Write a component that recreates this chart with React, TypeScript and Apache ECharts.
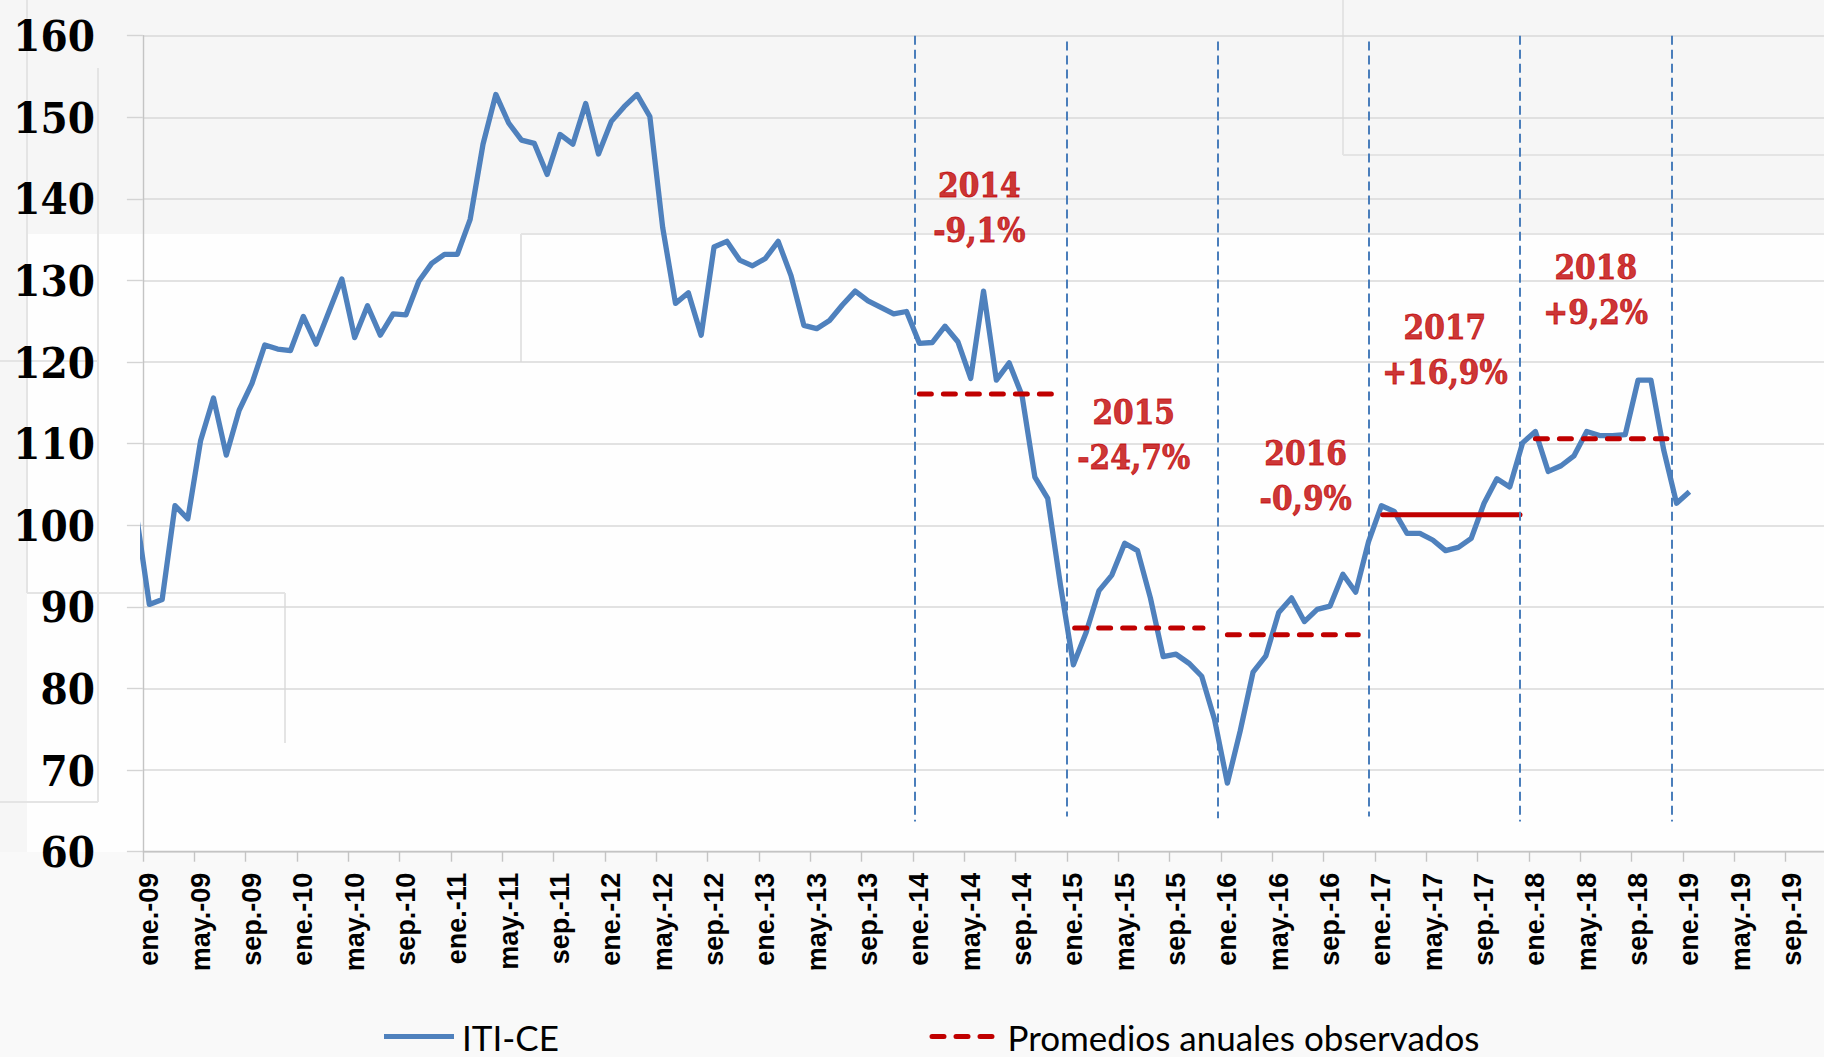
import React, { useEffect, useRef } from "react";
import * as echarts from "echarts";

// ---------- data ----------
const monthNames = ["ene.", "feb.", "mar.", "abr.", "may.", "jun.", "jul.", "ago.", "sep.", "oct.", "nov.", "dic."];
const years = ["09", "10", "11", "12", "13", "14", "15", "16", "17", "18", "19"];
const categories = years.flatMap((y) => monthNames.map((m) => `${m}-${y}`));

// ITI-CE, monthly; first value is dic-08 (clipped at the axis), then ene-09 ... ene-19
const itiFirstMonth = -1;
const itiValues = [
  101.2,
  90.3, 90.9, 102.4, 100.8, 110.4, 115.6, 108.6, 114.1, 117.4, 122.1, 121.6, 121.4,
  125.6, 122.2, 126.2, 130.2, 123.0, 126.9, 123.3, 125.9, 125.8, 129.9, 132.1, 133.2,
  133.2, 137.5, 146.7, 152.8, 149.3, 147.2, 146.8, 143.0, 147.9, 146.7, 151.7, 145.5,
  149.5, 151.3, 152.8, 150.1, 136.5, 127.2, 128.5, 123.3, 134.1, 134.8, 132.5, 131.8,
  132.7, 134.8, 130.6, 124.5, 124.1, 125.1, 127.0, 128.7, 127.5, 126.7, 125.9, 126.2,
  122.3, 122.4, 124.4, 122.5, 118.0, 128.7, 117.8, 119.9, 115.9, 105.9, 103.3, 92.6,
  82.9, 86.9, 92.0, 93.9, 97.8, 96.9, 91.1, 83.9, 84.2, 83.1, 81.5, 76.2,
  68.4, 74.8, 82.0, 84.0, 89.3, 91.1, 88.2, 89.7, 90.1, 94.0, 91.8, 98.0,
  102.4, 101.7, 99.0, 99.0, 98.2, 96.9, 97.3, 98.4, 102.7, 105.7, 104.7, 110.1,
  111.5, 106.6, 107.3, 108.5, 111.5, 111.0, 111.0, 111.1, 117.8, 117.8, 109.2, 102.7,
  104.1,
];

// year separators (in months from ene-09)
const markerMonths = [60.14, 72.0, 83.77, 95.5, 107.3, 119.12];
const markerTop = [160, 159.3, 159.3, 159.3, 160, 160];
const markerBottom = [63.7, 64.3, 64.1, 64.3, 63.7, 63.7];

// annual averages
const avgYears = ["2014", "2015", "2016", "2017", "2018"];
const avgValues = [116.1, 87.4, 86.6, 101.3, 110.6];
const avgStart = [60.5, 72.6, 84.5, 96.6, 108.5];
const avgEnd = [70.8, 82.6, 94.7, 107.3, 118.75];
const avgSolid = [false, false, false, true, false];

// annual change annotations
const changeLabels = ["-9,1%", "-24,7%", "-0,9%", "+16,9%", "+9,2%"];
const labelMonth = [65.17, 77.2, 90.6, 101.45, 113.2];
const labelValue = [138.9, 111.1, 106.0, 121.5, 128.85];

const yTicks = { min: 60, max: 160, step: 10 };

const BLUE = "#4f81bd";
const RED = "#c00000";
const AVG_NAME = "Promedios anuales observados";
const SERIF = "'DejaVu Serif Condensed', 'DejaVu Serif', 'Liberation Serif', serif";
const GHOST = "#e4e4e4";

export default function App() {
  const ref = useRef<HTMLDivElement>(null);

  useEffect(() => {
    if (!ref.current) return;
    const chart = echarts.init(ref.current, undefined, { renderer: "svg" });

    const itiData = itiValues.map((v, k) => [itiFirstMonth + k + 0.5, v]);

    const avgSeries = avgValues.map((v, k) => ({
      type: "line",
      name: AVG_NAME,
      xAxisIndex: 1,
      data: [
        [avgStart[k], v],
        [avgEnd[k], v],
      ],
      symbol: "none",
      silent: true,
      color: RED,
      lineStyle: { color: RED, width: 5, type: avgSolid[k] ? "solid" : [12, 12], cap: "round" },
      z: 4,
    }));

    const ghostLine = (x1: number, y1: number, x2: number, y2: number) => ({
      type: "line",
      z: -5,
      silent: true,
      shape: { x1, y1, x2, y2 },
      style: { stroke: GHOST, lineWidth: 2 },
    });

    const dashIcon =
      "path://M2.5,0h12a2.5,2.5 0 0 1 0,5h-12a2.5,2.5 0 0 1 0,-5z" +
      "M26.5,0h12a2.5,2.5 0 0 1 0,5h-12a2.5,2.5 0 0 1 0,-5z" +
      "M50.5,0h12a2.5,2.5 0 0 1 0,5h-12a2.5,2.5 0 0 1 0,-5z";

    const legendText = {
      fontFamily: "Lato",
      fontSize: 35,
      color: "#000",
      lineHeight: 30,
    };

    const option: any = {
      animation: false,
      backgroundColor: "#f6f6f6",
      graphic: [
        {
          type: "rect",
          z: -10,
          silent: true,
          shape: { x: 27, y: 234, width: 1820, height: 618 },
          style: { fill: "#fefefe" },
        },
        {
          type: "rect",
          z: -10,
          silent: true,
          shape: { x: 0, y: 852, width: 1840, height: 205 },
          style: { fill: "#f9f9f9" },
        },
        ghostLine(27, 0, 27, 593),
        ghostLine(27, 593, 285, 593),
        ghostLine(285, 593, 285, 743),
        ghostLine(98, 68, 98, 802),
        ghostLine(0, 802, 98, 802),
        ghostLine(0, 361, 98, 361),
        ghostLine(1343, 0, 1343, 155),
        ghostLine(1343, 155, 1840, 155),
        ghostLine(521, 234, 1840, 234),
        ghostLine(521, 234, 521, 362),
      ],
      grid: { left: 142.9, top: 35.7, right: 0, bottom: 205.3, containLabel: false },
      legend: [
        {
          data: ["ITI-CE"],
          left: 379,
          top: 1014,
          icon: "rect",
          itemWidth: 70,
          itemHeight: 5,
          itemGap: 0,
          textStyle: { ...legendText, padding: [0, 0, 0, 3] },
        },
        {
          data: [AVG_NAME],
          left: 924.5,
          top: 1014,
          icon: dashIcon,
          itemWidth: 65,
          itemHeight: 5,
          itemGap: 0,
          textStyle: { ...legendText, padding: [0, 0, 0, 8] },
        },
      ],
      xAxis: [
        {
          type: "category",
          data: categories,
          boundaryGap: true,
          axisLine: { show: true, lineStyle: { color: "#c4c4c4", width: 1.4 } },
          axisTick: { show: true, interval: 3, length: 10, lineStyle: { color: "#c4c4c4", width: 1.4 } },
          axisLabel: {
            interval: 3,
            rotate: 90,
            margin: 21,
            fontFamily: "Liberation Sans",
            fontWeight: "bold",
            fontSize: 27,
            color: "#000",
          },
          splitLine: { show: false },
        },
        { type: "value", min: 0, max: categories.length, show: false },
      ],
      yAxis: {
        type: "value",
        min: yTicks.min,
        max: yTicks.max,
        interval: yTicks.step,
        axisLine: { show: true, lineStyle: { color: "#c4c4c4", width: 1.4 } },
        axisTick: { show: true, length: 16, lineStyle: { color: "#d4d4d4", width: 1.4 } },
        axisLabel: {
          margin: 48,
          fontFamily: SERIF,
          fontWeight: "bold",
          fontSize: 43.5,
          color: "#000",
        },
        splitLine: { show: true, lineStyle: { color: "#d9d9d9", width: 1.5 } },
      },
      series: [
        {
          type: "line",
          name: "ITI-CE",
          xAxisIndex: 1,
          data: itiData,
          symbol: "none",
          color: BLUE,
          lineStyle: { color: BLUE, width: 5.3, join: "round" },
          z: 3,
          markLine: {
            silent: true,
            symbol: ["none", "none"],
            label: { show: false },
            lineStyle: { color: "#4a7ebb", width: 2, type: [9, 5] },
            data: markerMonths.map((m, k) => [
              { coord: [m, markerTop[k]] },
              { coord: [m, markerBottom[k]] },
            ]),
          },
        },
        ...avgSeries,
        {
          type: "scatter",
          name: "labels",
          xAxisIndex: 1,
          silent: true,
          symbolSize: 1,
          itemStyle: { color: "rgba(0,0,0,0)" },
          data: labelMonth.map((m, k) => [m, labelValue[k]]),
          label: {
            show: true,
            position: "inside",
            formatter: (p: any) => `${avgYears[p.dataIndex]}\n${changeLabels[p.dataIndex]}`,
            color: RED,
            textBorderColor: RED,
            textBorderWidth: 0.8,
            fontFamily: SERIF,
            fontWeight: "bold",
            fontSize: 33,
            lineHeight: 45,
            align: "center",
            verticalAlign: "middle",
          },
          z: 5,
        },
      ],
    };

    chart.setOption(option);
    return () => chart.dispose();
  }, []);

  return (
    <div style={{ position: "absolute", left: 0, top: 0, width: 1824, height: 1057, overflow: "hidden" }}>
      <div ref={ref} style={{ position: "absolute", left: 0, top: 0, width: 1837, height: 1057 }} />
    </div>
  );
}
